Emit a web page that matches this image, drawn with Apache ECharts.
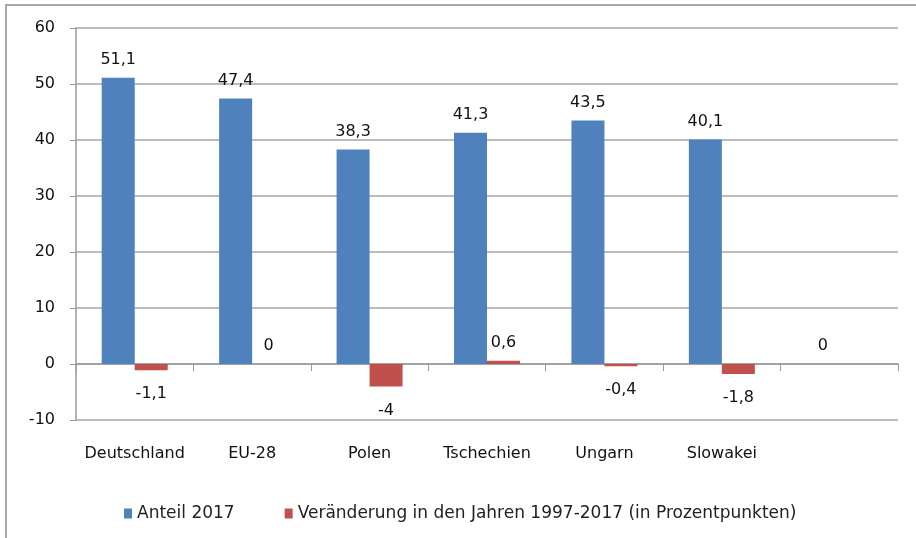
<!DOCTYPE html>
<html>
<head>
<meta charset="utf-8">
<script src="https://cdn.jsdelivr.net/npm/echarts@6/dist/echarts.min.js"></script>
<style>
  html, body { margin: 0; padding: 0; background: #fff; }
  #chart { width: 916px; height: 538px; }
</style>
</head>
<body>
<div id="chart"></div>
<script>
// Länder (letzte Kategorie leer)
var laender = ['Deutschland', 'EU-28', 'Polen', 'Tschechien', 'Ungarn', 'Slowakei', ''];
// Anteil 2017
var anteil2017 = [51.1, 47.4, 38.3, 41.3, 43.5, 40.1, 0];
// Veränderung 1997-2017 in Prozentpunkten
var veraenderung = [-1.1, 0, -4, 0.6, -0.4, -1.8, null];
var yTicks = { min: -10, max: 60, step: 10 };

var schrift = 'DejaVu Sans';

function mitLabel(arr) { // negative Werte unter dem Balken
  return arr.map(function (v) {
    if (v === null) return null;
    return {
      value: v,
      label: v < 0 ? { position: 'bottom', distance: 16 } : { position: 'top', distance: 10 }
    };
  });
}
function komma(p) {
  return String(p.value).replace('.', ',');
}

var myChart = echarts.init(document.getElementById('chart'));

var option = {
  backgroundColor: '#fff',
  animation: false,
  textStyle: { fontFamily: schrift },
  graphic: [{
    type: 'rect',
    shape: { x: 6, y: 5, width: 960, height: 600 },
    style: { fill: 'none', stroke: '#a8a8a8', lineWidth: 2 },
    silent: true
  }],
  grid: { left: 76, right: 18, top: 28, bottom: 118 },
  legend: {
    left: 119,
    top: 500,
    icon: 'rect',
    itemWidth: 8,
    itemHeight: 10,
    itemGap: 50,
    textStyle: { fontFamily: schrift, fontSize: 17, color: '#222' },
    data: ['Anteil 2017', 'Veränderung in den Jahren 1997-2017 (in Prozentpunkten)']
  },
  xAxis: {
    type: 'category',
    data: laender,
    axisLine: { onZero: true, lineStyle: { color: '#999', width: 1.5 } },
    axisTick: { show: true, length: 7, lineStyle: { color: '#999' } },
    axisLabel: { interval: 0, margin: 26, fontSize: 16, color: '#111', fontFamily: schrift }
  },
  yAxis: {
    type: 'value',
    min: yTicks.min,
    max: yTicks.max,
    interval: yTicks.step,
    axisLine: { show: true, lineStyle: { color: '#999', width: 1.5 } },
    axisTick: { show: true, length: 6, lineStyle: { color: '#999' } },
    axisLabel: { margin: 21, fontSize: 16, color: '#111', fontFamily: schrift },
    splitLine: { lineStyle: { color: '#a6a6a6', width: 1.5 } }
  },
  series: [{
    name: 'Anteil 2017',
    type: 'bar',
    barWidth: 33,
    barGap: '0%',
    itemStyle: { color: '#4F81BD' },
    label: { show: true, fontSize: 16, color: '#111', formatter: komma },
    data: mitLabel(anteil2017)
  }, {
    name: 'Veränderung in den Jahren 1997-2017 (in Prozentpunkten)',
    type: 'bar',
    barWidth: 33,
    itemStyle: { color: '#C0504D' },
    label: { show: true, fontSize: 16, color: '#111', formatter: komma },
    data: mitLabel(veraenderung)
  }]
};
myChart.setOption(option);
</script>
</body>
</html>
